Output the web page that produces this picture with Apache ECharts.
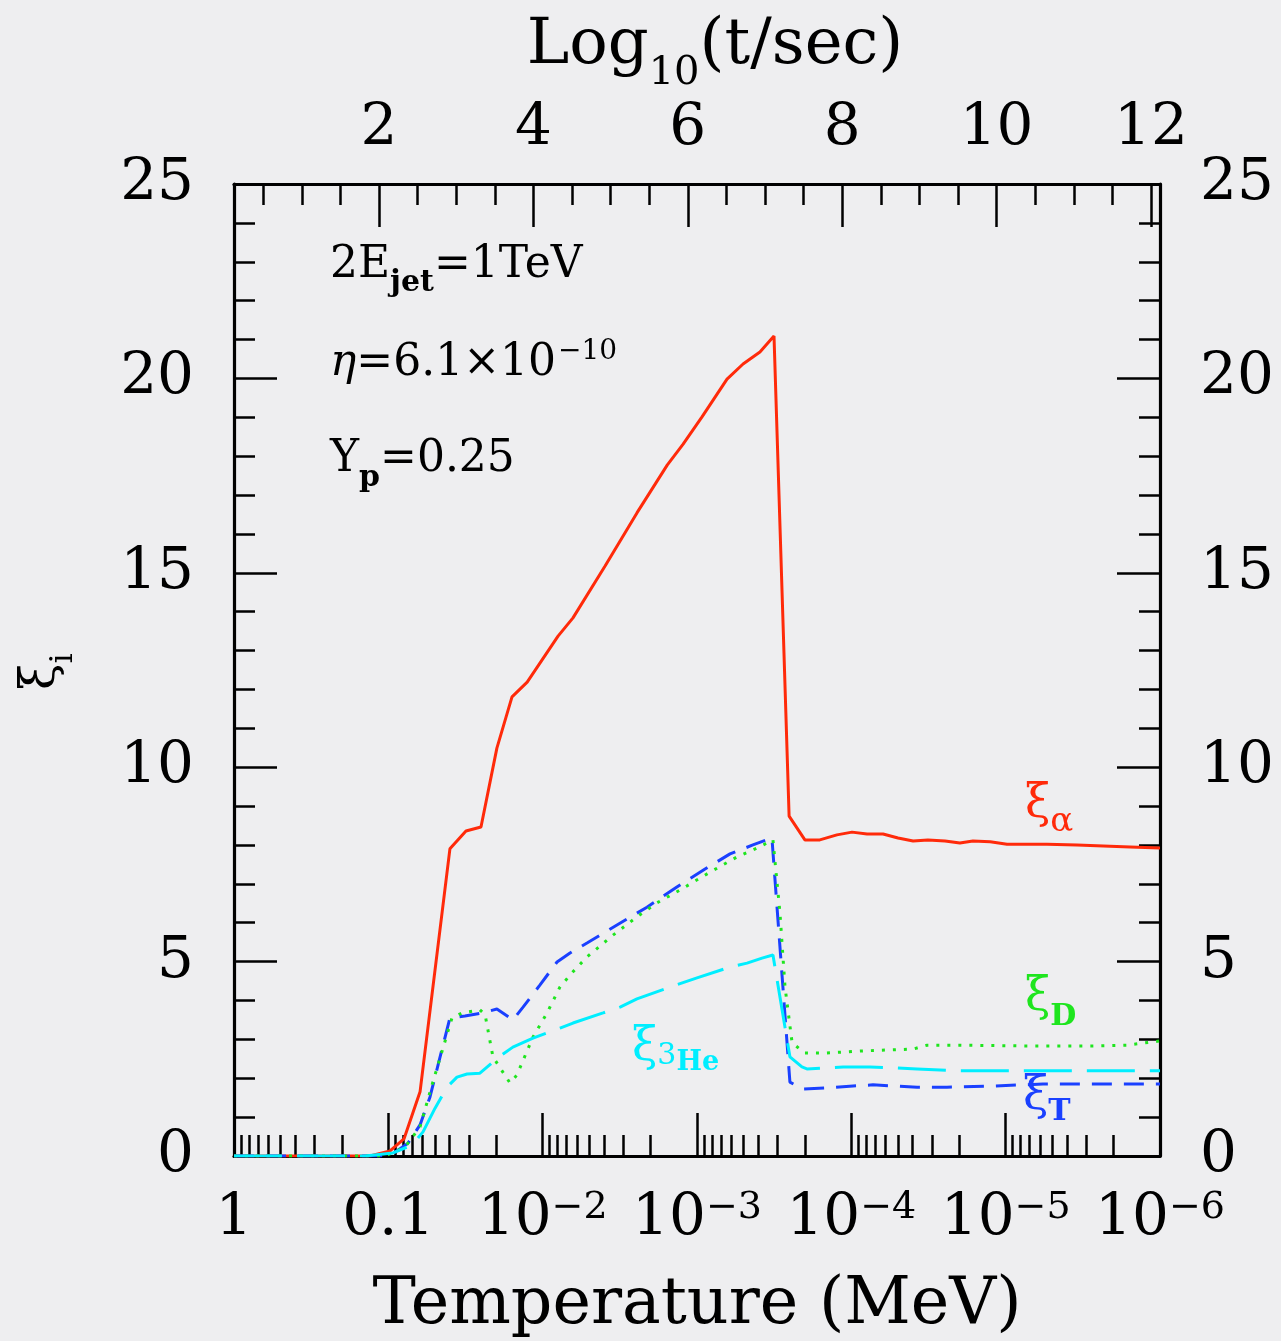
<!DOCTYPE html>
<html>
<head>
<meta charset="utf-8">
<script src="https://cdn.jsdelivr.net/npm/echarts@6.0.0/dist/echarts.min.js"></script>
<style>
  html, body { margin: 0; padding: 0; background: #eeeef0; }
  #chart { width: 1281px; height: 1341px; }
</style>
</head>
<body>
<div id="chart"></div>
<script>
// temperatures (MeV) and xi values
const tAlpha = [1, 0.1315, 0.0975, 0.0792, 0.0623, 0.0399, 0.0314, 0.0251, 0.0198, 0.0158, 0.0126, 0.00795, 0.00636, 0.00395, 0.00245, 0.00156, 0.00123, 0.000928, 0.000639, 0.000503, 0.000391, 0.000317, 0.000253, 0.0002, 0.00016, 0.000124, 9.9e-5, 7.91e-5, 6.23e-5, 4.98e-5, 3.98e-5, 3.19e-5, 2.47e-5, 1.98e-5, 1.63e-5, 1.26e-5, 9.8e-6, 7.27e-6, 5.4e-6, 3.45e-6, 2.11e-6, 1.56e-6, 1e-6]
const xiAlpha = [0, 0, 0.13, 0.44, 1.65, 7.90, 8.36, 8.46, 10.49, 11.81, 12.19, 13.37, 13.84, 15.17, 16.54, 17.77, 18.31, 19.01, 19.98, 20.37, 20.68, 21.09, 8.74, 8.13, 8.13, 8.26, 8.33, 8.28, 8.28, 8.18, 8.10, 8.13, 8.10, 8.05, 8.10, 8.08, 8.02, 8.02, 8.02, 8.00, 7.97, 7.95, 7.92]

const tT = [1, 0.1132, 0.0905, 0.0746, 0.0623, 0.0537, 0.0399, 0.0319, 0.0247, 0.0198, 0.0156, 0.0134, 0.0104, 0.00807, 0.00665, 0.00516, 0.0033, 0.00211, 0.00135, 0.000887, 0.000611, 0.000434, 0.000327, 0.00025, 0.000206, 0.000144, 9.75e-5, 7.24e-5, 3.75e-5, 2.4e-5, 1.21e-5, 5.73e-6, 2.72e-6, 1e-6]
const xiT = [0, 0, 0.10, 0.33, 0.80, 1.52, 3.55, 3.60, 3.68, 3.78, 3.50, 3.83, 4.40, 4.99, 5.22, 5.48, 5.94, 6.40, 6.92, 7.38, 7.77, 8.00, 8.18, 1.90, 1.72, 1.75, 1.80, 1.83, 1.77, 1.77, 1.80, 1.85, 1.85, 1.85]

const tD = [1, 0.1051, 0.078, 0.0623, 0.0521, 0.0387, 0.0333, 0.0255, 0.0236, 0.021, 0.0163, 0.0147, 0.01155, 0.00937, 0.00772, 0.00646, 0.00516, 0.0035, 0.00245, 0.00182, 0.00129, 0.000824, 0.000551, 0.000408, 0.000322, 0.00029, 0.000269, 0.000242, 0.0002, 0.000144, 8.79e-5, 3.98e-5, 3.23e-5, 1.98e-5, 7.27e-6, 2.72e-6, 1.64e-6, 1e-6]
const xiD = [0, 0, 0.23, 0.75, 1.83, 3.55, 3.68, 3.76, 3.63, 2.55, 1.88, 2.08, 3.06, 3.68, 4.35, 4.71, 5.12, 5.68, 6.15, 6.51, 6.84, 7.30, 7.69, 7.92, 8.13, 6.25, 4.35, 2.91, 2.65, 2.65, 2.70, 2.75, 2.85, 2.85, 2.83, 2.83, 2.85, 2.96]

const tHe = [1, 0.1416, 0.0933, 0.0703, 0.0596, 0.0498, 0.0417, 0.0359, 0.0309, 0.0255, 0.0189, 0.0156, 0.01155, 0.00772, 0.00636, 0.00406, 0.00315, 0.00245, 0.00156, 0.001, 0.000611, 0.000474, 0.000379, 0.000322, 0.00025, 0.000209, 0.000194, 0.000113, 7.57e-5, 3.75e-5, 1.98e-5, 7.27e-6, 2.72e-6, 1e-6]
const xiHe = [0, 0, 0.08, 0.28, 0.62, 1.23, 1.77, 2.03, 2.11, 2.13, 2.57, 2.80, 3.03, 3.29, 3.42, 3.68, 3.83, 4.04, 4.32, 4.58, 4.86, 4.96, 5.09, 5.17, 2.55, 2.29, 2.24, 2.29, 2.29, 2.24, 2.19, 2.19, 2.19, 2.19]

// tick labels
const decadeLabels = ['{b|1}', '{b|0.1}', '{b|10}{s|−2}', '{b|10}{s|−3}', '{b|10}{s|−4}', '{b|10}{s|−5}', '{b|10}{s|−6}']
const timeTicks = [2, 4, 6, 8, 10, 12]

const FONT = '"DejaVu Serif", serif'
const INK = '#000'
const RED = '#ff2a0a', GREEN = '#1ee51e', BLUE = '#1a40ff', CYAN = '#00eeff'

const zip = (t, v) => t.map((x, i) => [x, v[i]])

// minor tick spots: 2..9 inside each decade, half units of log t
const decadeMinor = []
for (let n = 0; n < 6; n++) for (let k = 2; k <= 9; k++) decadeMinor.push(n + 1 - Math.log10(k))
const timeMinor = []
for (let v = 0.5; v <= 12; v += 0.5) timeMinor.push(v)

const tickStyle = { color: INK, width: 2.5 }
const major = { show: true, inside: true, length: 43, lineStyle: tickStyle }
const minor = { show: true, inside: true, length: 21, lineStyle: tickStyle }
const frame = { show: true, onZero: false, lineStyle: { color: INK, width: 3.2 } }
const noLine = { show: false, onZero: false }
const labelFont = { color: INK, fontFamily: FONT, fontSize: 58 }
const tok = (size, extra) => Object.assign({ fontFamily: FONT, fontSize: size, lineHeight: size, verticalAlign: 'top' }, extra)

const myChart = echarts.init(document.getElementById('chart'))

const lineSeries = (name, data, color, type) => ({
    name: name,
    type: 'line',
    data: data,
    xAxisIndex: 0,
    yAxisIndex: 0,
    symbol: 'none',
    clip: true,
    lineStyle: { color: color, width: 3, type: type, cap: 'butt' },
})

const label = (x, y, text, color, rich) => ({
    type: 'text',
    x: x,
    y: y,
    z: 100,
    style: { text: text, fill: color, align: 'left', verticalAlign: 'top', fontFamily: FONT, fontSize: 44, rich: rich },
})
const r = (size, extra) => tok(size, Object.assign({ lineHeight: size }, extra))

const yAxisOf = (pos) => ({
    type: 'value',
    position: pos,
    min: 0,
    max: 25,
    interval: 5,
    axisLine: frame,
    axisTick: major,
    minorTick: { show: true, splitNumber: 5, length: 21, lineStyle: tickStyle },
    splitLine: { show: false },
    minorSplitLine: { show: false },
    axisLabel: { ...labelFont, margin: 40 },
})

const option = {
    backgroundColor: '#eeeef0',
    animation: false,
    grid: { left: 234, top: 184, width: 926, height: 972, outerBoundsMode: 'none', containLabel: false },
    xAxis: [
        { type: 'log', min: 1e-6, max: 1, inverse: true, show: false, axisLine: noLine },
        {
            type: 'value',
            position: 'bottom',
            min: 0,
            max: 6,
            interval: 1,
            axisLine: frame,
            axisTick: major,
            splitLine: { show: false },
            axisLabel: {
                ...labelFont,
                margin: 31,
                formatter: (v) => decadeLabels[Math.round(v)],
                rich: {
                    b: tok(58, { lineHeight: 62, color: INK, padding: [3, 0, 0, 0] }),
                    s: tok(38, { color: INK, lineHeight: 38, padding: [2, 0, 0, 0] }),
                },
            },
            name: 'Temperature (MeV)',
            nameLocation: 'middle',
            nameGap: 118,
            nameMoveOverlap: false,
            nameTextStyle: { color: INK, fontFamily: FONT, fontSize: 65 },
        },
        {
            type: 'value',
            position: 'bottom',
            min: 0,
            max: 6,
            axisLine: noLine,
            axisTick: { ...minor, customValues: decadeMinor },
            axisLabel: { show: false },
            splitLine: { show: false },
        },
        {
            type: 'value',
            position: 'top',
            min: 0.122,
            max: 12.117,
            axisLine: frame,
            axisTick: { ...major, customValues: timeTicks },
            axisLabel: { ...labelFont, margin: 26, customValues: timeTicks },
            splitLine: { show: false },
        },
        {
            type: 'value',
            position: 'top',
            min: 0.122,
            max: 12.117,
            axisLine: noLine,
            axisTick: { ...minor, customValues: timeMinor },
            axisLabel: { show: false },
            splitLine: { show: false },
        },
    ],
    yAxis: [yAxisOf('left'), yAxisOf('right')],
    series: [
        lineSeries('ξα', zip(tAlpha, xiAlpha), RED, 'solid'),
        lineSeries('ξT', zip(tT, xiT), BLUE, [20, 12]),
        lineSeries('ξD', zip(tD, xiD), GREEN, [3, 8]),
        lineSeries('ξ3He', zip(tHe, xiHe), CYAN, [48, 15]),
    ],
    graphic: [
        // top axis title
        {
            type: 'text',
            x: 715,
            y: 14,
            style: {
                text: '{b|Log}{s|10}{b|(t/sec)}',
                fill: INK,
                align: 'center',
                verticalAlign: 'top',
                fontFamily: FONT,
                fontSize: 64,
                rich: { b: r(64, { lineHeight: 64 }), s: r(40, { padding: [40, 0, 0, 0] }) },
            },
        },
        // y axis title
        {
            type: 'text',
            x: 18,
            y: 690,
            rotation: Math.PI / 2,
            style: {
                text: '{x|ξ}{s|i}',
                fill: INK,
                align: 'left',
                verticalAlign: 'top',
                fontFamily: FONT,
                fontSize: 48,
                rich: { x: r(48), s: r(32, { padding: [30, 0, 0, 0] }) },
            },
        },
        label(330, 244, '{b|2E}{s|jet}{b|=1TeV}', INK, {
            b: r(44),
            s: r(30, { fontWeight: 'bold', padding: [24, 0, 0, 0] }),
        }),
        label(330, 338, '{e|η}{b|=6.1×10}{p|−10}', INK, {
            e: r(44, { fontStyle: 'italic', padding: [4, 0, 0, 0] }),
            b: r(44, { padding: [4, 0, 0, 0] }),
            p: r(28, { padding: [0, 0, 0, 2] }),
        }),
        label(330, 438, '{b|Y}{s|p}{b|=0.25}', INK, {
            b: r(44),
            s: r(30, { fontWeight: 'bold', padding: [25, 0, 0, 0] }),
        }),
        label(1025, 782, '{x|ξ}{a|α}', RED, {
            x: r(46),
            a: r(34, { padding: [23, 0, 0, 0] }),
        }),
        label(1025, 975, '{x|ξ}{s|D}', GREEN, {
            x: r(46),
            s: r(30, { fontWeight: 'bold', padding: [27, 0, 0, 0] }),
        }),
        label(1023, 1074, '{x|ξ}{s|T}', BLUE, {
            x: r(46),
            s: r(30, { fontWeight: 'bold', padding: [23, 0, 0, 0] }),
        }),
        label(632, 1025, '{x|ξ}{n|3}{h|He}', CYAN, {
            x: r(46),
            n: r(30, { padding: [16, 0, 0, 0] }),
            h: r(27, { fontWeight: 'bold', padding: [24, 0, 0, 0] }),
        }),
    ],
}

myChart.setOption(option)
</script>
</body>
</html>
